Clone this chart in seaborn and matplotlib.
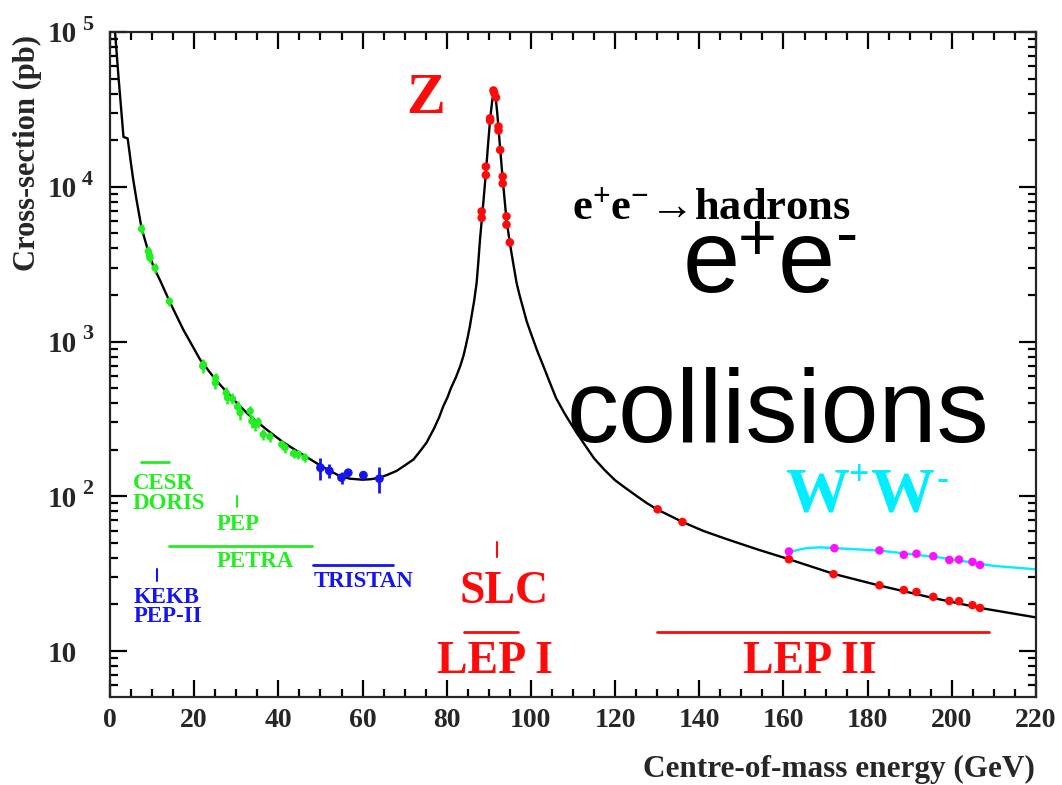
import numpy as np
import pandas as pd
import matplotlib
matplotlib.use("Agg")
import matplotlib.pyplot as plt
import matplotlib.transforms as mtransforms
import seaborn as sns
from matplotlib.ticker import LogLocator, NullFormatter, MultipleLocator

# ---------------- data ----------------
curve_E = [0.9, 1.2, 2.0, 3.2, 4.2, 4.6, 5.0, 5.5, 6.3, 7.5, 9.0, 10.3, 12.0, 14.3, 17.4,
           21.4, 25.0, 29.3, 33.0, 37.2, 41.0, 45.1, 50.0, 54.6, 57.0, 60.0, 62.0, 64.1,
           66.0, 68.1, 70.0, 72.1, 73.5, 75.2, 77.0, 78.2, 79.2, 80.2, 81.0, 82.2, 83.2,
           84.0, 84.5, 85.0, 85.5, 86.0, 86.5, 87.1, 87.5, 87.9, 88.3, 88.8, 89.3, 89.8,
           90.3, 90.8, 91.2, 91.6, 92.0, 92.3, 92.7, 93.3, 94.2, 95.0, 95.8, 96.6, 97.3,
           98.0, 99.0, 100.0, 101.5, 103.0, 104.5, 106.0, 108.0, 110.0, 112.5, 115.0,
           117.5, 120.0, 122.5, 125.0, 127.5, 130.1, 136.0, 141.0, 146.5, 153.8, 161.2,
           172.0, 182.8, 195.0, 206.7, 220.0]
curve_sigma = [150000, 100000, 52000, 21000, 20500, 17000, 14000, 11200, 8240, 5400, 3900,
               3060, 2450, 1780, 1195, 765, 570, 423, 335, 270, 225, 191, 158, 135, 130,
               128, 129, 132, 138, 146, 158, 173, 193, 222, 275, 324, 383, 437, 500, 589,
               693, 813, 930, 1072, 1256, 1514, 1820, 2390, 3240, 4550, 6000, 8500, 12300,
               18500, 27000, 36000, 41500, 38500, 30000, 24000, 17500, 11200, 6100, 4330,
               3200, 2390, 1995, 1700, 1350, 1130, 871, 690, 543, 430, 343, 280, 221, 176,
               148, 127, 113, 101, 90.5, 82, 68.3, 59.7, 52.9, 45.4, 39.3, 31.5, 26.5, 22.2,
               19.0, 16.5]

green_E = [7.5, 9.1, 9.4, 9.5, 10.7, 14.1, 22.0, 22.2, 25.0, 25.1, 27.6, 27.9, 29.1, 30.3,
           30.9, 33.3, 33.7, 34.4, 35.2, 36.4, 38.0, 40.8, 41.6, 43.6, 44.7, 46.3]
green_sigma = [5340, 3830, 3600, 3470, 2990, 1820, 693, 711, 541, 583, 467, 434, 427, 379,
               347, 355, 306, 291, 302, 251, 243, 216, 206, 189, 187, 178]
green_err = [400, 300, 280, 270, 220, 130, 70, 60, 50, 45, 45, 40, 35, 35, 35, 30, 28, 25,
             25, 20, 18, 15, 15, 13, 12, 12]

tristan_E = [50.0, 52.1, 55.0, 56.6, 60.2, 64.0]
tristan_sigma = [153, 146, 132, 142, 137, 130]
tristan_err = [25, 15, 12, 6, 6, 25]

z_E = [88.3, 88.3, 89.3, 89.3, 90.3, 90.3, 91.1, 91.3, 91.7, 92.3, 92.3, 92.7, 93.3, 93.3,
       94.2, 94.2, 95.0]
z_sigma = [6930, 6300, 13500, 11900, 27700, 26800, 41900, 40300, 37700, 24500, 23100, 17300,
           11650, 10500, 6440, 5690, 4370]

lep2_E = [130.1, 136.0, 161.3, 171.9, 182.8, 188.6, 191.6, 195.6, 199.4, 201.7, 204.9, 206.7]
lep2_sigma = [82.4, 68.3, 39.2, 31.4, 26.6, 24.8, 24.1, 22.4, 21.1, 21.0, 19.8, 19.0]

ww_E = [161.3, 172.1, 182.8, 188.6, 191.6, 195.6, 199.4, 201.7, 204.9, 206.7]
ww_sigma = [44.0, 46.2, 44.7, 41.9, 42.6, 41.0, 38.8, 39.0, 37.7, 36.0]

ww_curve_E = [161.3, 163.2, 165.5, 168.7, 172.0, 182.8, 197.2, 210.0, 219.8]
ww_curve_sigma = [43.5, 44.9, 46.3, 46.8, 46.3, 44.6, 40.2, 35.5, 33.8]

# accelerator energy ranges (GeV)
cesr_doris_range = [7.3, 14.1]
pep_energy = 30.1
petra_range = [14.1, 48.0]
tristan_range = [48.2, 67.2]
kekb_energy = 11.1
slc_energy = 92.0
lep1_range = [84.1, 97.0]
lep2_range = [130.0, 208.9]

x_ticks = [0, 20, 40, 60, 80, 100, 120, 140, 160, 180, 200, 220]
y_ticks = [10, 100, 1000, 10000, 100000]
y_tick_labels = ["10", "10", "10", "10", "10"]
y_tick_exponents = ["", "2", "3", "4", "5"]

# ---------------- style ----------------
sns.set_style("ticks")
SERIF = ["Liberation Serif", "DejaVu Serif"]
SANS = ["Liberation Sans", "DejaVu Sans"]
plt.rcParams["font.family"] = SERIF
plt.rcParams["font.weight"] = "bold"
plt.rcParams["mathtext.fontset"] = "custom"
plt.rcParams["mathtext.rm"] = "Liberation Serif:bold"
plt.rcParams["mathtext.it"] = "Liberation Serif:bold"
plt.rcParams["mathtext.bf"] = "Liberation Serif:bold"
plt.rcParams["axes.linewidth"] = 1.6

GREEN = "#22ee22"
BLUE = "#1515f0"
RED = "#ff0a0a"
MAGENTA = "#ff10ff"
CYAN = "#00eeff"

fig = plt.figure(figsize=(10.62, 7.85), dpi=100)
ax = fig.add_axes([110 / 1062, 88 / 785, 926 / 1062, 665 / 785])
ax.set_yscale("log")

# curves
sns.lineplot(x=curve_E, y=curve_sigma, ax=ax, color="black", lw=1.7, sort=False,
             estimator=None, zorder=2)
sns.lineplot(x=ww_curve_E, y=ww_curve_sigma, ax=ax, color=CYAN, lw=1.7, sort=False,
             estimator=None, zorder=2)

# low-energy data with error bars
ax.errorbar(green_E, green_sigma, yerr=green_err, fmt="none", ecolor=GREEN, elinewidth=1.8,
            zorder=3)
sns.scatterplot(x=green_E, y=green_sigma, ax=ax, color=GREEN, s=28, edgecolor="none",
                zorder=4)
ax.errorbar(tristan_E, tristan_sigma, yerr=tristan_err, fmt="none", ecolor=BLUE,
            elinewidth=2.0, zorder=3)
sns.scatterplot(x=tristan_E, y=tristan_sigma, ax=ax, color=BLUE, s=40, edgecolor="none",
                zorder=4)

# Z and LEP points
sns.scatterplot(x=z_E, y=z_sigma, ax=ax, color=RED, s=38, edgecolor="none", zorder=4)
sns.scatterplot(x=lep2_E, y=lep2_sigma, ax=ax, color=RED, s=38, edgecolor="none", zorder=4)
sns.scatterplot(x=ww_E, y=ww_sigma, ax=ax, color=MAGENTA, s=38, edgecolor="none", zorder=4)

# accelerator markers
ax.plot(cesr_doris_range, [165.7, 165.7], color=GREEN, lw=2)
ax.plot([pep_energy, pep_energy], [85, 100], color=GREEN, lw=1.5)
ax.plot(petra_range, [47.8, 47.8], color=GREEN, lw=2)
ax.plot(tristan_range, [35.9, 35.9], color=BLUE, lw=2)
ax.plot([kekb_energy, kekb_energy], [28.4, 33.8], color=BLUE, lw=1.5)
ax.plot([slc_energy, slc_energy], [40.8, 50.7], color=RED, lw=1.5)
ax.plot(lep1_range, [13.3, 13.3], color=RED, lw=2)
ax.plot(lep2_range, [13.3, 13.3], color=RED, lw=2)

small = dict(fontsize=16.5, fontweight="bold", va="baseline", ha="left")
ax.text(5.4, 111, "CESR", color=GREEN, **small)
ax.text(5.4, 82.4, "DORIS", color=GREEN, **small)
ax.text(25.3, 60.7, "PEP", color=GREEN, **small)
ax.text(25.3, 35.0, "PETRA", color=GREEN, **small)
ax.text(48.3, 25.8, "TRISTAN", color=BLUE, **small)
ax.text(5.55, 20.4, "KEKB", color=BLUE, **small)
ax.text(5.55, 15.5, "PEP-II", color=BLUE, **small)

ax.text(93.6, 20.6, "SLC", color=RED, fontsize=33, fontweight="bold", ha="center",
        va="baseline")
ax.text(91.4, 7.2, "LEP I", color=RED, fontsize=33, fontweight="bold", ha="center",
        va="baseline")
ax.text(166.3, 7.2, "LEP II", color=RED, fontsize=33, fontweight="bold", ha="center",
        va="baseline")
ax.text(75.0, 30100, "Z", color=RED, fontsize=42, fontweight="bold", ha="center",
        va="baseline")


def pieces(x, y, parts, **kw):
    """Draw a word made of pieces: (text, dx_px, dy_px, fontsize)."""
    for txt, dx, dy, fs in parts:
        ax.annotate(txt, xy=(x, y), xycoords="data", xytext=(dx, dy),
                    textcoords="offset pixels", fontsize=fs, ha="left", va="baseline",
                    **kw)


# W+W-
pieces(160.4, 80, [("W", 0, 0, 46), ("+", 63, 26, 26), ("W", 85, 0, 46), ("-", 151, 22, 26)],
       color=CYAN, fontweight="bold", family=SERIF)
# e+e- -> hadrons
ax.text(109.8, 6120, "e$^{+}$e$^{-}$\u2192hadrons", color="black", fontsize=32,
        fontweight="bold", ha="left", va="baseline", family=SERIF)
# big e+e-
pieces(136.1, 2103, [("e", 0, 0, 74), ("+", 55, 32, 48), ("e", 95, 0, 74), ("-", 153, 37, 48)],
       color="black", fontweight="normal", family=SANS)
ax.text(158.6, 226, "collisions", color="black", fontsize=75, fontweight="normal",
        family=SANS, ha="center", va="baseline")

# axes
ax.set_xlim(0, 220)
ax.set_ylim(5.05, 1e5)
ax.set_xticks(x_ticks, [str(v) for v in x_ticks])
ax.xaxis.set_minor_locator(MultipleLocator(5))
ax.set_yticks(y_ticks, y_tick_labels)
ax.yaxis.set_minor_locator(LogLocator(base=10, subs=np.arange(2, 10), numticks=20))
ax.yaxis.set_minor_formatter(NullFormatter())
ax.tick_params(which="both", direction="in", top=True, right=True, width=1.6, color="black")
ax.tick_params(which="major", length=12)
ax.tick_params(which="minor", length=6)
ax.tick_params(axis="x", which="major", labelsize=20, pad=8)
ax.tick_params(axis="y", which="major", labelsize=21, pad=44.6)
for t in ax.get_yticklabels():
    t.set_horizontalalignment("left")
    t.set_fontweight("bold")
for t in ax.get_xticklabels():
    t.set_fontweight("bold")

# exponents of the y tick labels
blend = mtransforms.blended_transform_factory(ax.transAxes, ax.transData)
for val, ex in zip(y_ticks, y_tick_exponents):
    if ex:
        ax.annotate(ex, xy=(0, val), xycoords=blend, xytext=(-20, 1.5),
                    textcoords="offset points", ha="left", va="baseline", fontsize=16,
                    fontweight="bold", annotation_clip=False)

for s in ax.spines.values():
    s.set_visible(True)
    s.set_linewidth(1.6)

fig.text(1035 / 1062, 1 - 777 / 785, "Centre-of-mass energy (GeV)", ha="right",
         va="baseline", fontsize=22.5, fontweight="bold")
fig.text(27 / 1062, 1 - 35 / 785, "Cross-section (pb)", ha="center", va="top",
         rotation=90, fontsize=22, fontweight="bold")

fig.savefig("out.png", dpi=100, facecolor="white")
